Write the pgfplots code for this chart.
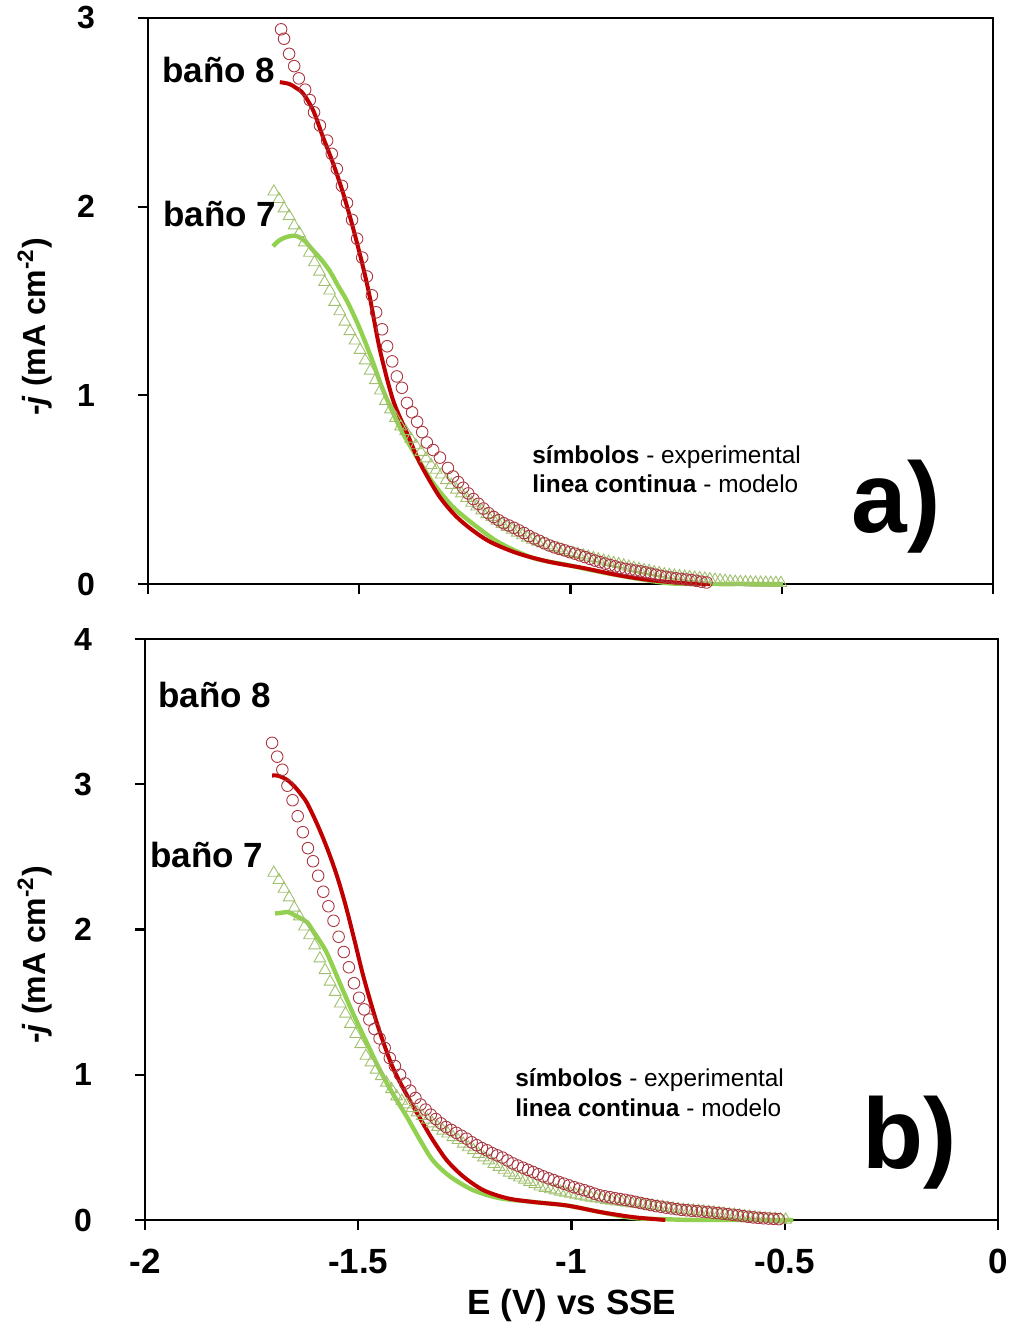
\documentclass[border=0pt]{standalone}
\usepackage{fontspec}
\setmainfont{Liberation Sans}
\usepackage{pgfplots}
\pgfplotsset{compat=1.18}

\definecolor{redline}{RGB}{192,0,0}
\definecolor{greenline}{RGB}{146,208,80}
\definecolor{redmark}{RGB}{170,55,65}
\definecolor{greenmark}{RGB}{160,192,110}

\pgfplotsset{
  panel/.style={
    scale only axis,
    xmin=-2, xmax=0,
    xtick={-2,-1.5,-1,-0.5,0},
    tick align=outside,
    xtick pos=bottom, ytick pos=left,
    major tick length=5pt,
    axis line style={line width=1.1pt},
    every tick/.style={black, line width=1.1pt},
    tick label style={font=\fontsize{16}{18}\selectfont\bfseries},
    yticklabel style={anchor=east, xshift=-18pt},
    clip=false,
  },
  expR/.style={only marks, mark=o, mark size=2.9pt, mark options={draw=redmark, line width=0.45pt}},
  expG/.style={only marks, mark=triangle, mark size=3.4pt, mark options={draw=greenmark, line width=0.45pt}},
  modR/.style={no marks, smooth, draw=redline, line width=2pt},
  modG/.style={no marks, smooth, draw=greenline, line width=2.2pt},
}

\begin{document}
\begin{tikzpicture}
\useasboundingbox (0,0) rectangle (505.5pt,664.5pt);

% ---------------- panel a) ----------------
\begin{axis}[panel, at={(74pt,372.5pt)}, anchor=south west,
  width=422.5pt, height=283pt,
  ymin=0, ymax=3, ytick={0,1,2,3}, yticklabels={0,1,2,3},
  xticklabels={}]
% baño 7, experimental
\addplot[expG] coordinates {
(-1.702,2.08)(-1.690,2.04)(-1.678,1.99)(-1.666,1.95)(-1.654,1.90)(-1.642,1.86)
(-1.630,1.81)(-1.618,1.755)(-1.606,1.705)(-1.594,1.655)(-1.582,1.60)(-1.570,1.555)
(-1.558,1.495)(-1.546,1.445)(-1.534,1.39)(-1.522,1.34)(-1.510,1.29)(-1.498,1.24)
(-1.486,1.185)(-1.474,1.13)(-1.462,1.08)(-1.450,1.025)(-1.438,0.97)(-1.426,0.925)
(-1.414,0.88)(-1.402,0.835)(-1.390,0.81)(-1.378,0.77)(-1.366,0.735)(-1.354,0.70)
(-1.342,0.665)(-1.330,0.63)(-1.318,0.605)(-1.306,0.58)(-1.294,0.55)(-1.282,0.525)
(-1.270,0.50)(-1.258,0.48)(-1.246,0.455)(-1.234,0.43)(-1.222,0.41)(-1.210,0.39)
(-1.198,0.37)(-1.186,0.355)(-1.174,0.335)(-1.162,0.318)(-1.150,0.302)(-1.138,0.288)
(-1.126,0.272)(-1.114,0.258)(-1.102,0.245)(-1.090,0.234)(-1.078,0.224)(-1.066,0.214)
(-1.054,0.205)(-1.042,0.196)(-1.030,0.188)(-1.018,0.179)(-1.006,0.170)(-0.994,0.164)
(-0.982,0.158)(-0.970,0.151)(-0.958,0.144)(-0.946,0.137)(-0.934,0.130)(-0.922,0.123)
(-0.910,0.117)(-0.898,0.111)(-0.886,0.105)(-0.874,0.098)(-0.862,0.091)(-0.850,0.085)
(-0.838,0.079)(-0.826,0.073)(-0.814,0.068)(-0.802,0.062)(-0.790,0.057)(-0.778,0.051)
(-0.766,0.047)(-0.754,0.044)(-0.742,0.041)(-0.730,0.038)(-0.718,0.036)(-0.706,0.033)
(-0.694,0.031)(-0.682,0.028)(-0.670,0.025)(-0.658,0.022)(-0.646,0.019)(-0.634,0.016)
(-0.622,0.013)(-0.610,0.011)(-0.598,0.010)(-0.586,0.009)(-0.574,0.008)(-0.562,0.007)
(-0.550,0.006)(-0.538,0.006)(-0.526,0.005)(-0.514,0.005)(-0.502,0.005)
};
% baño 8, experimental
\addplot[expR] coordinates {
(-1.685,2.94)(-1.678,2.89)(-1.666,2.81)(-1.654,2.745)(-1.643,2.68)(-1.628,2.62)
(-1.617,2.565)(-1.607,2.50)(-1.593,2.43)(-1.576,2.35)(-1.565,2.28)(-1.553,2.20)
(-1.541,2.11)(-1.529,2.02)(-1.517,1.93)(-1.505,1.83)(-1.493,1.73)(-1.482,1.63)
(-1.470,1.53)(-1.460,1.44)(-1.446,1.35)(-1.434,1.26)(-1.422,1.18)(-1.411,1.10)
(-1.399,1.04)(-1.387,0.96)(-1.375,0.91)(-1.363,0.86)(-1.351,0.805)(-1.340,0.75)
(-1.325,0.71)(-1.309,0.67)(-1.290,0.615)(-1.278,0.57)(-1.266,0.54)(-1.254,0.51)
(-1.242,0.48)(-1.230,0.45)(-1.218,0.425)(-1.206,0.40)(-1.194,0.375)(-1.182,0.355)
(-1.170,0.338)(-1.158,0.322)(-1.146,0.310)(-1.134,0.298)(-1.122,0.284)(-1.110,0.270)
(-1.098,0.254)(-1.086,0.241)(-1.074,0.229)(-1.062,0.216)(-1.050,0.204)(-1.038,0.194)
(-1.026,0.186)(-1.014,0.178)(-1.002,0.169)(-0.990,0.161)(-0.978,0.152)(-0.966,0.143)
(-0.954,0.133)(-0.942,0.124)(-0.930,0.116)(-0.918,0.108)(-0.906,0.100)(-0.894,0.093)
(-0.882,0.086)(-0.870,0.080)(-0.858,0.076)(-0.846,0.071)(-0.834,0.067)(-0.822,0.061)
(-0.810,0.055)(-0.798,0.049)(-0.786,0.043)(-0.774,0.038)(-0.762,0.034)(-0.750,0.030)
(-0.738,0.027)(-0.726,0.024)(-0.714,0.021)(-0.702,0.017)(-0.690,0.012)(-0.678,0.008)
};
% baño 7, model
\addplot[modG] coordinates {
(-1.704,1.79)(-1.690,1.82)(-1.671,1.84)(-1.650,1.845)(-1.630,1.82)(-1.610,1.77)
(-1.590,1.72)(-1.570,1.66)(-1.550,1.58)(-1.529,1.50)(-1.500,1.36)(-1.470,1.19)
(-1.444,1.03)(-1.404,0.83)(-1.363,0.67)(-1.325,0.535)(-1.278,0.408)(-1.221,0.302)
(-1.167,0.217)(-1.089,0.138)(-1.008,0.101)(-0.930,0.064)(-0.852,0.032)(-0.772,0.005)
(-0.700,0.0)(-0.497,0.0)
};
% baño 8, model
\addplot[modR] coordinates {
(-1.688,2.66)(-1.665,2.65)(-1.650,2.63)(-1.633,2.60)(-1.609,2.51)(-1.586,2.37)
(-1.562,2.23)(-1.538,2.07)(-1.515,1.89)(-1.491,1.68)(-1.475,1.52)(-1.451,1.24)
(-1.420,0.975)(-1.387,0.80)(-1.356,0.64)(-1.309,0.46)(-1.262,0.34)(-1.198,0.233)
(-1.127,0.164)(-1.049,0.117)(-0.970,0.085)(-0.890,0.048)(-0.812,0.021)(-0.734,0.005)
(-0.670,0.0)
};
\end{axis}

% ---------------- panel b) ----------------
\begin{axis}[panel, at={(72.5pt,54.5pt)}, anchor=south west,
  width=426.5pt, height=290.5pt,
  ymin=0, ymax=4, ytick={0,1,2,3,4}, yticklabels={0,1,2,3,4},
  xticklabels={-2,-1.5,-1,-0.5,0},
  xticklabel style={font=\fontsize{17.5}{20}\selectfont\bfseries, yshift=-6pt}]
% baño 7, experimental
\addplot[expG] coordinates {
(-1.698,2.39)(-1.686,2.34)(-1.674,2.28)(-1.662,2.22)(-1.650,2.15)(-1.638,2.09)
(-1.626,2.02)(-1.614,1.96)(-1.602,1.89)(-1.590,1.80)(-1.578,1.72)(-1.566,1.64)
(-1.554,1.57)(-1.542,1.49)(-1.530,1.42)(-1.518,1.35)(-1.506,1.28)(-1.494,1.21)
(-1.482,1.13)(-1.470,1.085)(-1.458,1.035)(-1.446,0.99)(-1.434,0.945)(-1.422,0.90)
(-1.410,0.85)(-1.398,0.82)(-1.386,0.795)(-1.374,0.77)(-1.362,0.74)(-1.350,0.715)
(-1.338,0.69)(-1.326,0.665)(-1.314,0.64)(-1.302,0.615)(-1.290,0.595)(-1.278,0.57)
(-1.266,0.55)(-1.254,0.525)(-1.242,0.50)(-1.230,0.48)(-1.218,0.455)(-1.206,0.43)
(-1.194,0.41)(-1.182,0.385)(-1.170,0.365)(-1.158,0.345)(-1.146,0.325)(-1.134,0.308)
(-1.122,0.292)(-1.110,0.277)(-1.098,0.262)(-1.086,0.246)(-1.074,0.230)(-1.062,0.220)
(-1.050,0.211)(-1.038,0.203)(-1.026,0.195)(-1.014,0.187)(-1.002,0.180)(-0.990,0.173)
(-0.978,0.167)(-0.966,0.160)(-0.954,0.153)(-0.942,0.147)(-0.930,0.142)(-0.918,0.137)
(-0.906,0.132)(-0.894,0.127)(-0.882,0.123)(-0.870,0.119)(-0.858,0.114)(-0.846,0.110)
(-0.834,0.106)(-0.822,0.102)(-0.810,0.098)(-0.798,0.093)(-0.786,0.089)(-0.774,0.084)
(-0.762,0.079)(-0.750,0.075)(-0.738,0.070)(-0.726,0.067)(-0.714,0.064)(-0.702,0.061)
(-0.690,0.058)(-0.678,0.055)(-0.666,0.051)(-0.654,0.047)(-0.642,0.043)(-0.630,0.039)
(-0.618,0.035)(-0.606,0.031)(-0.594,0.026)(-0.582,0.021)(-0.570,0.017)(-0.558,0.014)
(-0.546,0.011)(-0.534,0.008)(-0.522,0.006)(-0.510,0.004)(-0.498,0.002)
};
% baño 8, experimental
\addplot[expR] coordinates {
(-1.702,3.285)(-1.690,3.19)(-1.678,3.10)(-1.666,2.99)(-1.654,2.89)(-1.642,2.78)
(-1.630,2.67)(-1.618,2.56)(-1.606,2.47)(-1.594,2.37)(-1.582,2.26)(-1.570,2.16)
(-1.558,2.06)(-1.546,1.95)(-1.534,1.845)(-1.522,1.74)(-1.510,1.63)(-1.498,1.53)
(-1.486,1.45)(-1.474,1.38)(-1.462,1.315)(-1.450,1.25)(-1.438,1.185)(-1.426,1.115)
(-1.414,1.06)(-1.402,1.00)(-1.390,0.94)(-1.378,0.89)(-1.366,0.84)(-1.354,0.795)
(-1.342,0.76)(-1.330,0.725)(-1.318,0.695)(-1.306,0.665)(-1.294,0.64)(-1.282,0.62)
(-1.270,0.60)(-1.258,0.58)(-1.246,0.56)(-1.234,0.535)(-1.222,0.515)(-1.210,0.495)
(-1.198,0.48)(-1.186,0.46)(-1.174,0.445)(-1.162,0.43)(-1.150,0.41)(-1.138,0.39)
(-1.126,0.375)(-1.114,0.36)(-1.102,0.345)(-1.090,0.33)(-1.078,0.315)(-1.066,0.30)
(-1.054,0.287)(-1.042,0.275)(-1.030,0.262)(-1.018,0.250)(-1.006,0.238)(-0.994,0.226)
(-0.982,0.215)(-0.970,0.205)(-0.958,0.193)(-0.946,0.181)(-0.934,0.170)(-0.922,0.163)
(-0.910,0.157)(-0.898,0.150)(-0.886,0.144)(-0.874,0.139)(-0.862,0.132)(-0.850,0.125)
(-0.838,0.117)(-0.826,0.110)(-0.814,0.103)(-0.802,0.096)(-0.790,0.091)(-0.778,0.085)
(-0.766,0.080)(-0.754,0.075)(-0.742,0.070)(-0.730,0.067)(-0.718,0.064)(-0.706,0.061)
(-0.694,0.058)(-0.682,0.055)(-0.670,0.051)(-0.658,0.048)(-0.646,0.044)(-0.634,0.040)
(-0.622,0.036)(-0.610,0.032)(-0.598,0.027)(-0.586,0.022)(-0.574,0.018)(-0.562,0.015)
(-0.550,0.012)(-0.538,0.010)(-0.526,0.008)(-0.514,0.006)
};
% baño 7, model
\addplot[modG] coordinates {
(-1.695,2.11)(-1.680,2.115)(-1.665,2.12)(-1.650,2.10)(-1.637,2.08)(-1.620,2.05)
(-1.606,1.99)(-1.590,1.92)(-1.573,1.835)(-1.543,1.63)(-1.512,1.42)(-1.480,1.22)
(-1.449,1.03)(-1.419,0.87)(-1.386,0.71)(-1.355,0.55)(-1.325,0.41)(-1.285,0.30)
(-1.231,0.206)(-1.168,0.15)(-1.090,0.124)(-1.011,0.10)(-0.933,0.055)(-0.856,0.014)
(-0.776,0.005)(-0.700,0.0)(-0.480,0.0)
};
% baño 8, model
\addplot[modR] coordinates {
(-1.702,3.06)(-1.690,3.06)(-1.676,3.045)(-1.662,3.02)(-1.648,2.98)(-1.634,2.93)
(-1.620,2.87)(-1.597,2.73)(-1.573,2.56)(-1.550,2.37)(-1.530,2.17)(-1.510,1.94)
(-1.490,1.70)(-1.470,1.49)(-1.449,1.29)(-1.419,1.05)(-1.386,0.86)(-1.355,0.70)
(-1.325,0.55)(-1.292,0.41)(-1.254,0.30)(-1.207,0.206)(-1.151,0.15)(-1.090,0.124)
(-1.011,0.10)(-0.933,0.055)(-0.856,0.02)(-0.800,0.005)(-0.780,0.0)
};
\end{axis}

% ---------------- labels ----------------
\tikzset{lbl/.style={font=\fontsize{17.5}{20}\selectfont\bfseries, inner sep=0pt}}
\node[lbl, anchor=west] at (81pt,629.5pt) {baño 8};
\node[lbl, anchor=west] at (81.5pt,557.5pt) {baño 7};
\node[lbl, anchor=west] at (79pt,317pt) {baño 8};
\node[lbl, anchor=west] at (75pt,237pt) {baño 7};

\tikzset{note/.style={font=\fontsize{12.2}{14}\selectfont, inner sep=0pt, anchor=west}}
\node[note] at (266pt,436pt) {\textbf{símbolos} - experimental};
\node[note] at (266pt,422.5pt) {\textbf{linea continua} - modelo};
\node[note] at (257.5pt,124.5pt) {\textbf{símbolos} - experimental};
\node[note] at (257.5pt,110.5pt) {\textbf{linea continua} - modelo};

\node[font=\fontsize{50}{50}\selectfont\bfseries, inner sep=0pt] at (448pt,411pt) {a)};
\node[font=\fontsize{50}{50}\selectfont\bfseries, inner sep=0pt] at (454.7pt,93.2pt) {b)};

\node[font=\fontsize{16}{18}\selectfont\bfseries, rotate=90, inner sep=0pt] at (17.5pt,501pt) {-\textit{j} (mA cm\textsuperscript{-2})};
\node[font=\fontsize{16}{18}\selectfont\bfseries, rotate=90, inner sep=0pt] at (17.5pt,187pt) {-\textit{j} (mA cm\textsuperscript{-2})};
\node[font=\fontsize{17.5}{20}\selectfont\bfseries, inner sep=0pt] at (286pt,12pt) {E (V) vs SSE};
\end{tikzpicture}
\end{document}
